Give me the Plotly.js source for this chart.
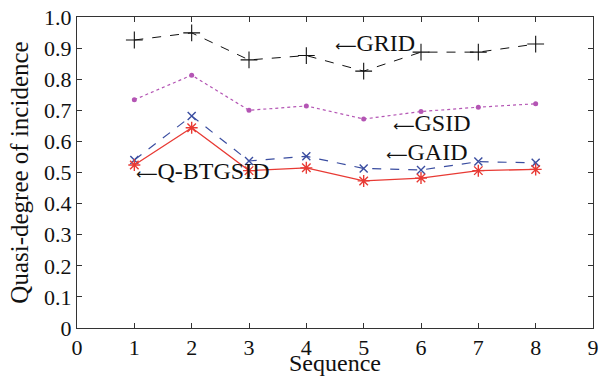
<!DOCTYPE html>
<html><head><meta charset="utf-8">
<script src="https://cdn.plot.ly/plotly-3.0.1.min.js"></script>
<style>html,body{margin:0;padding:0;background:#fff}#c{width:599px;height:376px}</style>
</head><body><div id="c"></div>
<script>
var seq = [1, 2, 3, 4, 5, 6, 7, 8];
var grid = [0.926, 0.949, 0.862, 0.876, 0.826, 0.887, 0.887, 0.913];
var gsid = [0.734, 0.813, 0.700, 0.714, 0.672, 0.696, 0.710, 0.721];
var gaid = [0.540, 0.682, 0.537, 0.552, 0.513, 0.508, 0.535, 0.531];
var qbtgsid = [0.524, 0.644, 0.506, 0.515, 0.473, 0.482, 0.506, 0.510];
var xTickVals = [0, 1, 2, 3, 4, 5, 6, 7, 8, 9];
var yTickVals = [0, 0.1, 0.2, 0.3, 0.4, 0.5, 0.6, 0.7, 0.8, 0.9, 1.0];
var yTickText = ["0", "0.1", "0.2", "0.3", "0.4", "0.5", "0.6", "0.7", "0.8", "0.9", "1.0"];
var labels = ["GRID", "GSID", "GAID", "Q-BTGSID"];

var serif = "'Liberation Serif', 'Times New Roman', serif";
var traces = [
  {x: seq, y: grid, mode: "lines+markers", line: {color: "#111", width: 1, dash: "dash"},
   marker: {symbol: "cross-thin-open", size: 12, line: {color: "#111", width: 1.1}}},
  {x: seq, y: gsid, mode: "lines+markers", line: {color: "#b455b4", width: 1.2, dash: "dot"},
   marker: {symbol: "circle", size: 5, color: "#b455b4"}},
  {x: seq, y: gaid, mode: "lines+markers", line: {color: "#3a4da0", width: 1.2, dash: "dash"},
   marker: {symbol: "x-thin-open", size: 8, line: {color: "#3a4da0", width: 1.4}}},
  {x: seq, y: qbtgsid, mode: "lines+markers", line: {color: "#e83a34", width: 1.3},
   marker: {symbol: "asterisk-open", size: 10, line: {color: "#e83a34", width: 1.4}}}
];
var annPos = [[4.47, 0.916], [5.48, 0.659], [5.36, 0.566], [1.0, 0.505]];
var anns = labels.map(function(t, i){
  return {x: annPos[i][0], y: annPos[i][1], xref: "x", yref: "y",
    text: "<span style='font-family:DejaVu Sans;font-size:15px'>⟵</span>" + t, showarrow: false,
    xanchor: "left", yanchor: "middle", font: {family: serif, size: 24, color: "#111"}};
});
var layout = {
  width: 599, height: 376,
  margin: {l: 77, r: 6, t: 17, b: 48},
  showlegend: false,
  paper_bgcolor: "#fff", plot_bgcolor: "#fff",
  font: {family: serif, size: 22, color: "#111"},
  xaxis: {range: [0, 9], tickvals: xTickVals, ticks: "inside", ticklen: 5, tickcolor: "#333",
    showgrid: false, zeroline: false, showline: true, linecolor: "#333", linewidth: 1, mirror: "ticks",
    tickfont: {family: serif, size: 22}, automargin: false,
    title: {text: "Sequence", font: {family: serif, size: 24}, standoff: 5}},
  yaxis: {range: [0, 1], tickvals: yTickVals, ticktext: yTickText, ticks: "inside", ticklen: 5, tickcolor: "#333",
    showgrid: false, zeroline: false, showline: true, linecolor: "#333", linewidth: 1, mirror: "ticks",
    tickfont: {family: serif, size: 22}, automargin: false,
    title: {text: "Quasi-degree of incidence", font: {family: serif, size: 25}, standoff: 8}},
  annotations: anns
};
Plotly.newPlot("c", traces, layout, {displayModeBar: false, staticPlot: true});
</script></body></html>
